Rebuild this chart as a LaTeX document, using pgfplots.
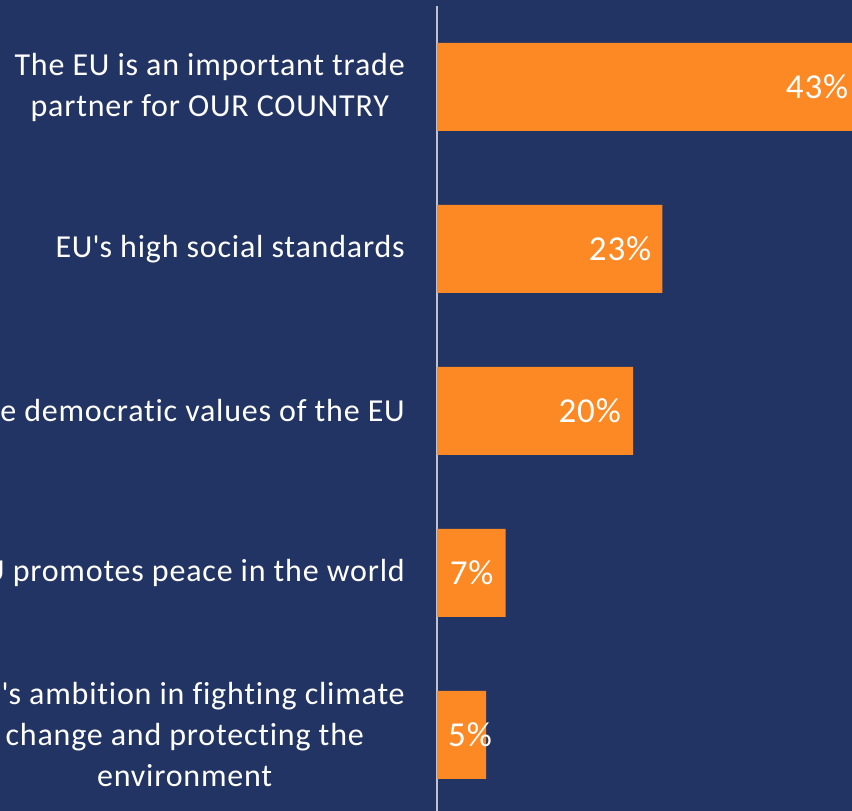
\documentclass[border=0pt]{standalone}
\usepackage{pgfplots}
\pgfplotsset{compat=1.18}
\usepackage{fontspec}
\setmainfont[LetterSpace=2.5,Ligatures=NoCommon]{Carlito}

\definecolor{navy}{RGB}{34,52,100}
\definecolor{barorange}{RGB}{253,137,37}
\definecolor{axisgray}{RGB}{190,195,205}

\newcommand{\q}{\textquotesingle}

\begin{document}
\begin{tikzpicture}[x=1bp,y=1bp]
\fill[navy] (0,0) rectangle (852,811);
\clip (0,0) rectangle (852,811);
\begin{axis}[
    at={(437bp,-5bp)}, anchor=south west,
    scale only axis,
    width=421.4bp, height=810bp,
    xbar, bar width=88bp,
    xmin=0, xmax=43, ymin=-0.5, ymax=4.5,
    hide x axis,
    axis y line*=left,
    y axis line style={draw=axisgray, line width=1.2bp},
    major tick length=0pt,
    ytick={0,1,2,3,4},
    yticklabels={
        {EU\q s ambition in fighting climate\\change and protecting the\\environment},
        {The EU promotes peace in the world},
        {The democratic values of the EU},
        {EU\q s high social standards},
        {The EU is an important trade\\partner for OUR COUNTRY}},
    yticklabel style={align=center, text=white, inner sep=0pt, xshift=-32bp,
        font=\fontsize{32bp}{41bp}\selectfont},
    /pgf/number format/assume math mode=true,
    visualization depends on={\thisrow{dx} \as \dx},
    point meta=x,
    nodes near coords={\pgfmathprintnumber{\pgfplotspointmeta}\%},
    every node near coord/.append style={anchor=east, inner sep=0pt, text=white,
        font=\fontsize{35bp}{40bp}\selectfont, xshift=\dx bp},
]
\addplot[fill=barorange, draw=none] table {
x  y  dx
5  0  6
7  1  -12
20 2  -12
23 3  -11
43 4  -10
};
\end{axis}
\end{tikzpicture}
\end{document}
